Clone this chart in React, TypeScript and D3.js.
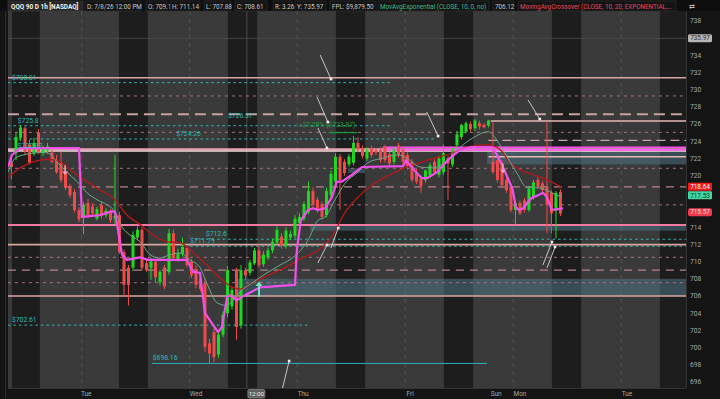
import React from 'react';
import * as d3 from 'd3';

const W = 720, H = 399;
const PL = 8, PR = 686, PT = 11, PB = 388;

// OHLC per 1h bar (index = bar number)
const candles: [number, number, number, number][] = [
  [721.5, 722.4, 719.6, 721.0], [722.6, 725.0, 721.8, 724.5], [724.4, 725.8, 724.0, 725.6], [725.5, 725.7, 722.5, 722.8],
  [723.6, 724.2, 721.3, 721.5], [722.6, 724.4, 722.3, 723.8], [725.0, 725.4, 722.5, 722.8], [722.6, 723.5, 722.3, 723.2],
  [722.9, 723.8, 722.6, 723.4], [722.7, 723.0, 721.4, 721.6], [721.8, 722.4, 720.2, 720.4], [721.5, 722.8, 719.2, 719.5],
  [720.3, 720.6, 718.3, 718.6], [718.7, 719.0, 717.4, 717.7], [718.1, 718.4, 715.7, 716.0], [716.0, 716.3, 714.6, 714.9],
  [715.1, 716.9, 713.2, 716.6], [716.8, 717.3, 715.1, 715.4], [716.4, 716.8, 715.3, 715.6], [715.0, 716.4, 714.8, 716.1],
  [716.6, 717.0, 715.0, 715.3], [715.4, 716.2, 715.1, 715.9], [715.8, 716.1, 714.5, 714.8], [715.0, 722.4, 714.3, 715.3],
  [715.4, 715.8, 710.9, 711.1], [711.1, 711.4, 705.9, 707.3], [709.3, 709.6, 704.9, 707.3], [709.3, 713.5, 708.9, 713.1],
  [712.8, 714.1, 712.5, 713.7], [713.7, 714.0, 709.0, 709.3], [709.8, 710.2, 708.8, 709.0], [709.3, 710.4, 707.9, 710.0],
  [710.0, 710.3, 707.6, 708.2], [707.6, 709.0, 707.2, 708.8], [709.3, 709.6, 706.8, 707.1], [708.8, 713.8, 708.5, 713.3],
  [713.3, 713.7, 710.1, 710.4], [710.3, 711.5, 710.0, 711.0], [710.9, 712.8, 710.6, 711.7], [711.6, 711.9, 709.3, 709.6],
  [710.0, 710.3, 708.1, 708.4], [709.1, 709.6, 706.9, 707.3], [708.0, 708.4, 706.5, 706.8], [707.5, 708.0, 699.5, 700.1],
  [700.5, 701.0, 698.16, 699.3], [701.8, 702.3, 698.3, 698.9], [699.2, 701.8, 698.8, 701.5], [701.5, 704.2, 701.2, 703.8],
  [704.0, 709.5, 703.5, 709.0], [704.8, 707.0, 704.4, 706.7], [709.0, 709.3, 700.9, 702.4], [702.6, 709.6, 702.2, 709.0],
  [709.0, 709.3, 707.9, 708.4], [708.7, 710.2, 708.4, 709.9], [709.8, 711.6, 709.6, 711.3], [711.3, 712.0, 709.3, 709.6],
  [709.7, 711.2, 709.4, 710.8], [710.5, 711.6, 710.2, 711.3], [711.3, 712.7, 711.0, 712.3], [712.2, 714.1, 711.9, 713.7],
  [712.9, 713.3, 711.5, 711.8], [711.8, 714.0, 711.5, 713.6], [712.8, 713.6, 712.5, 713.2], [713.0, 715.4, 712.7, 715.0],
  [714.5, 715.6, 714.2, 715.2], [715.0, 717.0, 714.7, 716.7], [715.8, 719.3, 715.5, 718.2], [718.2, 718.6, 716.3, 716.6],
  [717.2, 717.5, 715.7, 716.0], [716.7, 717.0, 714.9, 715.2], [715.4, 718.6, 715.1, 718.2], [717.7, 720.6, 717.4, 720.2],
  [719.3, 722.6, 719.0, 722.2], [722.2, 722.5, 716.0, 719.5], [721.6, 721.9, 720.0, 720.3], [721.3, 722.5, 721.0, 722.2],
  [721.5, 724.6, 721.2, 723.8], [723.8, 724.5, 722.7, 723.0], [723.2, 723.5, 722.0, 722.3], [722.0, 723.3, 721.7, 723.0],
  [723.2, 723.5, 722.1, 722.4], [723.0, 723.2, 722.4, 722.7], [723.0, 723.3, 721.5, 721.8], [723.3, 723.6, 721.5, 721.8],
  [722.5, 722.8, 721.1, 721.4], [721.6, 723.3, 721.3, 723.0], [723.5, 723.8, 722.1, 722.4], [723.0, 723.4, 721.3, 721.6],
  [722.4, 722.7, 720.7, 721.0], [721.6, 721.9, 719.2, 719.5], [720.4, 720.8, 719.0, 719.3], [719.6, 720.0, 718.0, 718.8],
  [719.5, 720.7, 719.2, 720.6], [720.0, 721.5, 719.7, 721.2], [721.6, 721.9, 720.1, 720.4], [720.1, 722.3, 719.8, 722.0],
  [720.4, 723.6, 720.1, 722.6], [722.0, 722.3, 717.2, 721.4], [721.3, 723.2, 721.0, 723.0], [723.5, 725.2, 723.2, 724.8],
  [724.5, 726.0, 724.2, 725.9], [725.1, 726.3, 724.9, 726.1], [726.0, 726.3, 725.1, 725.4], [725.5, 726.6, 725.2, 726.4],
  [726.1, 726.4, 725.4, 725.7], [725.9, 726.1, 725.5, 725.6], [725.8, 726.5, 725.6, 726.4], [721.6, 726.2, 720.2, 720.4],
  [721.8, 722.2, 719.2, 719.5], [721.4, 721.8, 718.6, 718.9], [719.5, 719.8, 718.0, 718.3], [718.7, 719.0, 715.7, 716.0],
  [716.0, 716.9, 714.2, 716.8], [716.8, 717.1, 715.4, 715.6], [717.1, 717.4, 715.7, 716.0], [716.0, 718.8, 715.8, 718.5],
  [717.5, 719.5, 717.2, 719.2], [719.5, 719.8, 718.4, 718.7], [719.1, 719.4, 718.0, 718.3], [718.7, 726.3, 713.3, 716.6],
  [718.0, 718.3, 713.3, 715.6], [715.9, 718.2, 712.7, 718.0], [718.1, 718.4, 715.3, 715.57],
];

// indicator traces: [bar, price]
const magentaLine: [number, number][] = [
  [-0.78, 721.0], [0.11, 722.4], [1.89, 723.2], [15.0, 723.2], [15.67, 715.2], [19.67, 715.4], [21.9, 715.8], [23.0, 715.8],
  [24.56, 710.8], [25.67, 710.2], [28.56, 710.5], [30.33, 710.2], [39.0, 710.2], [40.33, 708.8], [41.89, 708.7], [43.0, 704.0],
  [45.89, 701.8], [46.78, 702.4], [47.89, 705.9], [48.56, 706.1], [50.1, 705.5], [51.2, 705.9], [55.2, 707.0], [63.0, 707.3],
  [63.4, 711.3], [64.3, 714.8], [65.9, 716.0], [67.0, 716.2], [68.1, 716.0], [69.7, 716.2], [71.2, 717.5], [72.3, 719.3],
  [73.4, 719.3], [75.7, 720.1], [77.9, 721.0], [87.0, 721.1], [87.7, 721.8], [88.6, 721.2], [89.9, 720.4], [91.2, 719.7],
  [92.3, 719.7], [94.6, 720.4], [95.9, 721.2], [97.4, 722.0], [99.7, 723.0], [101.9, 723.3], [106.8, 723.3], [107.9, 722.4],
  [109.2, 721.0], [110.8, 719.1], [111.4, 718.3], [112.1, 716.3], [112.8, 716.0], [113.7, 716.2], [115.2, 717.2], [115.9, 717.5],
  [117.0, 717.7], [118.1, 718.0], [119.0, 717.5], [120.1, 716.0], [122.6, 716.2],
];
const ema10: [number, number][] = [
  [-0.78, 720.4], [0.78, 722.0], [2.56, 722.4], [4.78, 722.6], [7.0, 722.7], [8.56, 722.5], [10.1, 721.6], [12.3, 720.4],
  [14.6, 719.3], [16.8, 718.0], [19.0, 717.2], [21.2, 716.6], [23.0, 715.8], [24.6, 714.0], [26.3, 713.1], [28.6, 712.3],
  [30.8, 710.8], [33.0, 710.4], [35.2, 710.8], [37.4, 711.0], [39.7, 710.2], [41.9, 709.3], [43.4, 707.5], [45.7, 705.2],
  [47.9, 704.9], [49.2, 705.5], [50.8, 706.5], [53.7, 707.6], [56.8, 708.7], [59.7, 709.6], [62.6, 710.5], [65.9, 712.5],
  [68.1, 714.8], [69.7, 715.2], [71.9, 717.2], [74.1, 719.1], [77.0, 720.4], [79.2, 721.5], [82.3, 722.0], [85.9, 722.4],
  [87.9, 722.0], [90.8, 721.0], [93.7, 720.9], [96.8, 721.8], [99.7, 723.3], [102.6, 724.4], [105.9, 725.1], [107.9, 724.1],
  [110.1, 722.2], [112.3, 720.3], [114.6, 718.6], [116.8, 718.6], [119.0, 718.3], [121.2, 717.7], [122.3, 717.53],
];
const ema20: [number, number][] = [
  [-0.78, 719.8], [1.9, 720.9], [4.8, 721.6], [7.9, 721.9], [10.8, 721.6], [13.7, 720.4], [16.8, 719.3], [19.7, 718.3],
  [22.6, 717.4], [25.7, 715.4], [28.6, 714.3], [31.4, 713.1], [34.6, 712.3], [37.4, 712.2], [40.3, 711.1], [43.4, 709.6],
  [46.3, 708.1], [49.2, 707.0], [50.8, 706.8], [53.4, 707.5], [57.0, 708.4], [60.8, 709.3], [64.6, 710.4], [68.1, 711.3],
  [71.2, 712.9], [74.1, 715.7], [77.0, 717.5], [80.1, 718.9], [83.0, 719.8], [87.4, 720.9], [90.8, 721.5], [93.7, 722.0],
  [96.8, 722.4], [101.2, 723.3], [105.7, 723.6], [108.6, 723.0], [110.8, 721.5], [113.0, 720.7], [115.9, 720.1], [119.0, 719.5],
  [122.3, 718.64],
];

// session shading (extended-hours bands), in bars
const darkSessions: [number, number][] = [[0.1, 6.3], [23.9, 30.3], [48.1, 54.6], [72.1, 78.6], [96.1, 102.6], [120.1, 126.6], [144.1, 150]];
const daySeparators = [15.6, 39.6, 63.5, 87.5, 111.5, 135.5];
const timeTicks: [string, number][] = [['Tue', 16.6], ['Wed', 41.0], ['Thu', 64.8], ['Fri', 88.6], ['Sun', 107.7], ['Mon', 113.0], ['Tue', 136.8]];
const cursorBar = 52.3;
const cursorLabel = '12:00';

const priceTicks = [738, 736, 734, 732, 730, 728, 726, 724, 722, 720, 718, 716, 714, 712, 710, 708, 706, 704, 702, 700, 698, 696];

// price levels
const solidLevels = [731.38, 711.97, 706.0];
const pinkLevels = [714.26];
const doubleLevelA = [723.06];
const doubleLevelB = [722.86];
const shortDashLevels = [729.26, 725.03, 720.85, 716.6, 710.5, 707.55];
const wideDashLevels = [727.13];
const longDashLevels = [718.7, 709.0];
const teal: [number, number, number][] = [ // price, fromBar, toBar
  [730.81, -0.8, 84.5], [725.8, -0.8, 84.5], [724.26, -0.8, 94], [712.6, 40.8, 150], [711.79, 39.7, 150], [702.61, -0.8, 66],
];
const tealSolid: [number, number, number][] = [[698.16, 31.2, 105.7]];
const rightSolid: [number, number, number][] = [[726.35, 106.5, 150], [722.2, 106.0, 150]];
const rightDash: [number, number, number][] = [[724.1, 106.0, 150]];
const magentaLevels: [number, number, number][] = [[723.28, 82.5, 150], [722.98, 82.5, 150]];
const zones: [number, number, number, number][] = [ // top, bottom, fromBar, toBar
  [723.0, 721.3, 105.7, 150], [714.26, 713.6, 66.3, 150], [708.0, 706.0, 49.7, 150], [720.85, 720.3, 74.8, 78.6],
];
const tealLabels: [string, number, number][] = [
  ['$730.81', 0.1, 730.81], ['$725.8', 1.4, 725.8], ['$726.37', 48.1, 726.37], ['$724.26', 36.6, 724.26],
  ['$722.87', 1.4, 722.87], ['$712.6', 43.2, 712.6], ['$711.79', 39.7, 711.79], ['$702.61', 0.1, 702.61], ['$698.16', 31.4, 698.16],
];
const pctLabel: [string, number, number] = ['-27.29% ($723.87)', 64.2, 725.6];

const arrows: [number, number, number, number][] = [
  [68.6, 734.02, 71.0, 731.23], [67.9, 729.14, 70.3, 726.23], [68.1, 725.53, 70.1, 723.21], [92.3, 727.4, 94.8, 724.6],
  [114.8, 728.79, 117.4, 726.58], [59.7, 694.14, 61.7, 698.44], [68.1, 709.84, 70.1, 711.93], [71.0, 711.58, 72.6, 713.91],
  [118.1, 709.6, 120.1, 712.28], [119.0, 709.26, 120.8, 711.7],
];
const upSignals: [number, number][] = [[55.0, 707.5]];
const downSignals: [number, number][] = [[11.9, 720.2], [109.2, 720.4]];

const lastClose = 715.57;
const yHigh = 735.97;
const ema10Last = 717.53;
const ema20Last = 718.64;

const headerItems: [string, number, string][] = [
  ['D: 7/8/26 12:00 PM', 87, '#c8c8c8'], ['O: 709.1', 148, '#c8c8c8'], ['H: 711.14', 172, '#c8c8c8'], ['L: 707.88', 206, '#c8c8c8'],
  ['C: 708.61', 237, '#c8c8c8'], ['R: 3.26', 275, '#c8c8c8'], ['Y: 735.97', 297, '#c8c8c8'], ['FPL: $9,879.50', 332, '#c8c8c8'],
  ['MovAvgExponential (CLOSE, 10, 0, no)', 380, '#3fbf8f'], ['706.12', 495, '#c8c8c8'],
  ['MovingAvgCrossover (CLOSE, 10, 20, EXPONENTIAL,...', 520, '#e24a68'],
];
const headerWidths = [56, 21, 30, 27, 32, 19, 31, 46, 111, 21, 158];

export default function App() {
  const x = d3.scaleLinear().domain([-0.78, 149.9]).range([PL, PR]);
  const y = d3.scaleLinear().domain([726, 696]).range([124, 382]);
  const lineLin = d3.line<[number, number]>().x(d => x(d[0])).y(d => y(d[1])).curve(d3.curveLinear);
  const lineSmooth = d3.line<[number, number]>().x(d => x(d[0])).y(d => y(d[1])).curve(d3.curveMonotoneX);
  const font = 'Roboto, "Open Sans", sans-serif';
  const green = '#1fd81f', red = '#ee4b4b';

  const bubbleYs = [y(yHigh), y(ema20Last) - 0.5, y(ema10Last) - 1.5, y(lastClose) - 1.5];
  const visibleTicks = priceTicks.filter(t => bubbleYs.every(b => Math.abs(y(t) - b) > 6.5));

  const hLine = (p: number, a: number, b: number, stroke: string, sw: number, dash?: string, key?: string) => (
    <line key={key} x1={x(a)} x2={x(b)} y1={y(p)} y2={y(p)} stroke={stroke} strokeWidth={sw} strokeDasharray={dash} />
  );

  return (
    <svg width={W} height={H} style={{ position: 'absolute', left: 0, top: 0, background: '#121212' }}>
      <defs>
        <clipPath id="plot"><rect x={PL} y={PT} width={PR - PL} height={PB - PT} /></clipPath>
      </defs>
      <rect x={0} y={0} width={W} height={H} fill="#131313" />
      <rect x={PL} y={PT} width={PR - PL} height={PB - PT} fill="#3a3a3a" />
      <g clipPath="url(#plot)">
        {darkSessions.map((s, i) => (
          <rect key={'ds' + i} x={x(s[0])} y={PT} width={x(s[1]) - x(s[0])} height={PB - PT} fill="#1d1d1d" />
        ))}
        {daySeparators.map((d, i) => (
          <line key={'sep' + i} x1={x(d)} x2={x(d)} y1={PT} y2={PB} stroke="#5a5a5a" strokeWidth={0.8} strokeDasharray="4,4" />
        ))}
        <line x1={x(cursorBar)} x2={x(cursorBar)} y1={PT} y2={PB} stroke="#4c4c4c" strokeWidth={1} />
        {hLine(yHigh, -0.8, 150, '#4e4e4e', 0.8, undefined, 'yh')}
        {zones.map((z, i) => (
          <rect key={'z' + i} x={x(z[2])} y={y(z[0])} width={x(z[3]) - x(z[2])} height={y(z[1]) - y(z[0])} fill="#4f7385" opacity={0.55} />
        ))}
        {shortDashLevels.map((p, i) => hLine(p, -0.8, 150, '#a8727c', 1, '3,4', 'sd' + i))}
        {wideDashLevels.map((p, i) => hLine(p, -0.8, 150, '#c4a3a3', 2, '11,6', 'wd' + i))}
        {longDashLevels.map((p, i) => hLine(p, -0.8, 150, '#b4848a', 1.2, '8,6', 'ld' + i))}
        {rightDash.map((l, i) => hLine(l[0], l[1], l[2], '#c8a8a8', 1.3, '9,5', 'rd' + i))}
        {teal.map((l, i) => hLine(l[0], l[1], l[2], '#2fb8b8', 1, '2.5,3', 'tl' + i))}
        {tealSolid.map((l, i) => hLine(l[0], l[1], l[2], '#2fb0b0', 1, undefined, 'ts' + i))}
        {solidLevels.map((p, i) => hLine(p, -0.8, 150, '#d8a6a0', 1.6, undefined, 'sl' + i))}
        {pinkLevels.map((p, i) => hLine(p, -0.8, 150, '#f47aa2', 2, undefined, 'pl' + i))}
        {rightSolid.map((l, i) => hLine(l[0], l[1], l[2], '#e6b8b4', 1.5, undefined, 'rs' + i))}
        {doubleLevelA.map((p, i) => hLine(p, -0.8, 150, '#eaa2b6', 2, undefined, 'da' + i))}
        {doubleLevelB.map((p, i) => hLine(p, -0.8, 150, '#f6d8dc', 1.6, undefined, 'db' + i))}
        {magentaLevels.map((l, i) => hLine(l[0], l[1], l[2], '#ff4ff0', 1.6, undefined, 'ml' + i))}

        {candles.map((c, i) => {
          const [o, h, l, cl] = c;
          const col = cl >= o ? green : red;
          const top = y(Math.max(o, cl)), bot = y(Math.min(o, cl));
          return (
            <g key={'c' + i}>
              <line x1={x(i)} x2={x(i)} y1={y(h)} y2={y(l)} stroke={col} strokeWidth={1} />
              <rect x={x(i) - 1.5} y={top} width={3} height={Math.max(1, bot - top)} fill={col} />
            </g>
          );
        })}

        <path d={lineSmooth(ema20) || ''} fill="none" stroke="#b3181c" strokeWidth={1.3} />
        <path d={lineSmooth(ema10) || ''} fill="none" stroke="#6aa88a" strokeWidth={1} />
        <path d={lineLin(magentaLine) || ''} fill="none" stroke="#f250ec" strokeWidth={2.2} strokeLinejoin="round" />

        {tealLabels.map((t, i) => (
          <text key={'tlab' + i} x={x(t[1])} y={y(t[2]) - 3} fill="#2fb8b8" fontSize={6.8} fontFamily={font}>{t[0]}</text>
        ))}
        <text x={x(pctLabel[1])} y={y(pctLabel[2])} fill="#1f9a3a" fontSize={6.8} fontFamily={font}>{pctLabel[0]}</text>
        <line x1={x(70.5)} x2={x(76.8)} y1={y(725.0)} y2={y(725.0)} stroke="#1f9a3a" strokeWidth={1.2} />

        {upSignals.map((s, i) => (
          <g key={'up' + i} fill="#6fe6b8" stroke="#6fe6b8">
            <line x1={x(s[0])} x2={x(s[0])} y1={y(s[1])} y2={y(s[1] - 1.6)} strokeWidth={2} />
            <path d={`M${x(s[0]) - 3.5},${y(s[1]) + 3}L${x(s[0])},${y(s[1]) - 1.5}L${x(s[0]) + 3.5},${y(s[1]) + 3}Z`} stroke="none" />
          </g>
        ))}
        {downSignals.map((s, i) => (
          <g key={'dn' + i} fill="#f2a0b4" stroke="#f2a0b4">
            <line x1={x(s[0])} x2={x(s[0])} y1={y(s[1] + 1.0)} y2={y(s[1])} strokeWidth={1.5} />
            <path d={`M${x(s[0]) - 3},${y(s[1]) - 2.5}L${x(s[0])},${y(s[1]) + 1}L${x(s[0]) + 3},${y(s[1]) - 2.5}Z`} stroke="none" />
          </g>
        ))}
      </g>

      {arrows.map((a, i) => {
        const x1 = x(a[0]), y1 = y(a[1]), x2 = x(a[2]), y2 = y(a[3]);
        return (
          <g key={'ar' + i}>
            <line x1={x1} y1={y1} x2={x2} y2={y2} stroke="#d6d6d6" strokeWidth={0.9} />
            <rect x={x2 - 1.3} y={y2 - 1.3} width={2.6} height={2.6} fill="#f0f0f0" />
          </g>
        );
      })}

      {/* frame */}
      <rect x={0} y={0} width={W} height={PT} fill="#0e0e0e" />
      <rect x={0} y={PB} width={PR} height={H - PB} fill="#141414" />
      <rect x={PR} y={PT} width={W - PR} height={H - PT} fill="#141414" />
      <rect x={0} y={PT} width={PL} height={PB - PT} fill="#141414" />
      <line x1={5.5} x2={5.5} y1={PT} y2={H} stroke="#2c2c2c" />
      <line x1={PR + 0.5} x2={PR + 0.5} y1={PT} y2={PB} stroke="#333" />
      <line x1={PL} x2={PR} y1={PB + 0.5} y2={PB + 0.5} stroke="#333" />

      {/* header */}
      <rect x={8} y={1} width={75} height={10} fill="#262626" stroke="#444" strokeWidth={0.6} />
      <text x={11} y={8.6} fill="#f2f2f2" fontSize={6.4} fontWeight="bold" fontFamily={font}>QQQ 90 D 1h [NASDAQ]</text>
      {headerItems.map((h, i) => (
        <g key={'h' + i}>
          <rect x={h[1] - 2} y={1} width={headerWidths[i]} height={10} fill="#141414" stroke="#333" strokeWidth={0.6} />
          <text x={h[1]} y={8.6} fill={h[2]} fontSize={6.3} fontFamily={font}>{h[0]}</text>
        </g>
      ))}
      <text x={689} y={8.5} fill="#bbb" fontSize={7} fontFamily={font}>⇄</text>

      {/* price axis */}
      {visibleTicks.map((t, i) => (
        <text key={'pt' + i} x={690} y={y(t)} dy="0.35em" fill="#a8a8a8" fontSize={6.6} fontFamily={font}>{t}</text>
      ))}
      <rect x={688} y={y(yHigh) - 4} width={24} height={8} rx={1.5} fill="#b5b5b5" />
      <text x={700} y={y(yHigh)} dy="0.35em" textAnchor="middle" fill="#333" fontSize={6.4} fontFamily={font}>{yHigh.toFixed(2)}</text>
      <rect x={688} y={y(ema20Last) - 4.5} width={24} height={8} rx={1} fill="#f21c1c" />
      <text x={700} y={y(ema20Last) - 0.5} dy="0.35em" textAnchor="middle" fill="#fff" fontSize={6.4} fontFamily={font}>{ema20Last.toFixed(2)}</text>
      <rect x={688} y={y(ema10Last) - 5.5} width={24} height={8} rx={1} fill="#45d6a4" />
      <text x={700} y={y(ema10Last) - 1.5} dy="0.35em" textAnchor="middle" fill="#0b3b2a" fontSize={6.4} fontFamily={font}>{ema10Last.toFixed(2)}</text>
      <rect x={688} y={y(lastClose) - 5.5} width={24} height={8} rx={2} fill="#f2384c" />
      <text x={700} y={y(lastClose) - 1.5} dy="0.35em" textAnchor="middle" fill="#ffe0e0" fontSize={6.4} fontFamily={font}>{lastClose.toFixed(2)}</text>

      {/* time axis */}
      {timeTicks.map((t, i) => (
        <text key={'tt' + i} x={x(t[1])} y={396} textAnchor="middle" fill="#a8a8a8" fontSize={6.4} fontFamily={font}>{t[0]}</text>
      ))}
      <rect x={x(cursorBar) + 1} y={389.5} width={17} height={8.5} rx={1.5} fill="#5e5e5e" stroke="#a0a0a0" strokeWidth={0.6} />
      <text x={x(cursorBar) + 9.5} y={396} textAnchor="middle" fill="#eee" fontSize={6.2} fontFamily={font}>{cursorLabel}</text>
    </svg>
  );
}
